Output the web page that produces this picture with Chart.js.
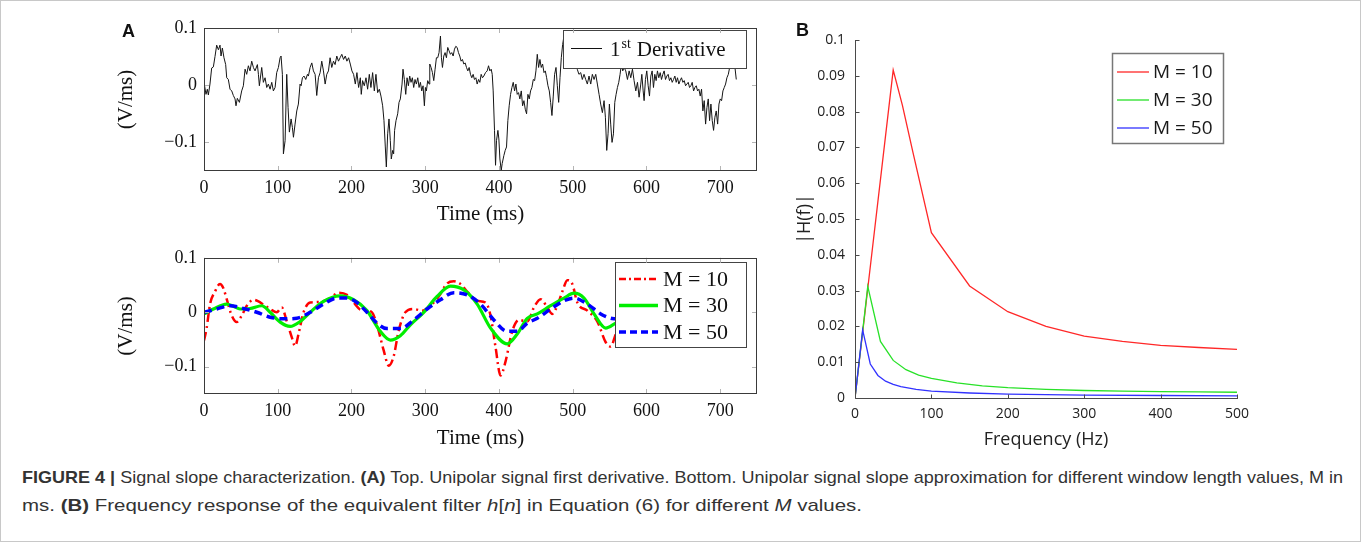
<!DOCTYPE html>
<html>
<head>
<meta charset="utf-8">
<script src="https://cdn.jsdelivr.net/npm/chart.js@4.4.0/dist/chart.umd.min.js"></script>
<style>
  html, body { margin: 0; padding: 0; background: #fff; }
  body { width: 1362px; height: 542px; position: relative; overflow: hidden; }
  #frame { position: absolute; left: 0; top: 0; width: 1359px; height: 540px; border: 1px solid #c8c8c8; }
  .cv { position: absolute; }
  .panel { position: absolute; font-family: 'Liberation Sans', Arial, sans-serif; font-weight: bold; font-size: 18px; line-height: 22px; color: #111; }
  .capline { position: absolute; left: 22px; white-space: nowrap; line-height: 20px;
             font-family: 'Liberation Sans Narrow', 'Liberation Sans', Arial, sans-serif;
             font-size: 17px; color: #333; transform-origin: 0 50%; }
</style>
</head>
<body>
<div id="frame"></div>
<canvas id="deriv-chart" class="cv" width="680" height="240" style="left:100px;top:0px"></canvas>
<canvas id="slope-chart" class="cv" width="680" height="220" style="left:100px;top:240px"></canvas>
<canvas id="freq-chart" class="cv" width="480" height="460" style="left:780px;top:0px"></canvas>
<div class="panel" style="left:122px;top:20px">A</div>
<div class="panel" style="left:796px;top:19px">B</div>
<div class="capline" id="cap1" style="top:468px"><b>FIGURE 4 |</b> Signal slope characterization. <b>(A)</b> Top. Unipolar signal first derivative. Bottom. Unipolar signal slope approximation for different window length values, M in</div>
<div class="capline" id="cap2" style="top:496px">ms. <b>(B)</b> Frequency response of the equivalent filter <i>h</i>[<i>n</i>] in Equation (6) for different <i>M</i> values.</div>

<script>
// ---- panel A top: 1st derivative in four stretches ----
const derivTime1 = [0,2.7,4.5,5.9,8.1,10.4,12.7,14.9,17.2,19.5,21.7,23.1,24.9,27.1,29.4,30.8,33,35.3,37.6,39.8,42.1,43.4,45.2,48,51.1,53.4,55.7,57.9,60.2,62.4,64.7,67,69.2,72.4,73.8,75.1,78.3,80.5,82.8,85.1,87.3,89.6,91.9,94.1,96.4,98.6,100.9,103.2,104.5,106.3,107.7,110,112.2,114,115.8,118.1,119.9,121.3,123.5,125.8,128,130.3,131.7,133.5,135.7,138,140.3,141.6,143.9,146.2,148.4,150.7,152.9,155.2,157.5,159.7,162,164.3,166.5,168.8,171,173.3,175.6,177.8,180.1,182.4,184.6,186.9]
const derivValue1 = [0.005,-0.016,-0.007,-0.017,0.002,0.03,0.032,0.05,0.07,0.062,0.07,0.051,0.065,0.048,0.036,0.013,0.01,-0.007,-0.01,-0.018,-0.024,-0.036,-0.023,-0.03,-0.01,-0.001,0.028,0.019,0.034,0.025,0.042,0.031,0.025,0.036,0.019,-0.001,0.031,0.005,0.013,-0.004,0.002,-0.007,0.005,-0.01,-0.004,0.022,0.031,0.048,0.051,0.019,-0.12,-0.097,0.019,-0.039,-0.082,-0.059,-0.074,-0.091,-0.068,-0.045,-0.033,0.002,-0.001,0.013,0.016,0.01,0.019,0.016,0.031,0.039,0.025,0.019,-0.018,0.013,0.022,0.042,0.025,0.002,0.019,0.025,0.048,0.031,0.042,0.036,0.051,0.042,0.048,0.054]

const derivTime2 = [189.3,191.6,193.8,196.1,198.4,200.6,202.9,205.2,207.4,209.7,212,213.3,215.1,217.4,219.7,221.9,224.2,226.4,228.7,231,233.2,235.5,237.8,240,242.3,244.1,245.9,247.3,249.1,250.9,252.7,254,255.9,257.2,258.5,260.4,262.7,264.5,266.3,268.6,269.9,271.7,273.6,275.4,277.2,279,280.8,282.6,284.4,286.2,288,289.9,291.7,293.5,295.3,297.1,298.9,300.3,301.6,303.4,305.3,306.2,308,309.8,311.6,313.4,315.2,317,318.8,320.7,322,323.4,325.2,327,328.8,330.6,332.4,334.2,336,337.9,339.7,341.5,343.3,345.1,346.9,348.7,350.5,352.4,354.2,356,357.8,359.6,361.4,363.2,365,366.8,368.7,370.5,372.3,374.1,375.9,377.7,379.5,381.8]
const derivValue2 = [0.045,0.051,0.042,0.048,0.037,0.025,0.019,0.002,0.022,-0.004,0.013,-0.016,0.008,-0.001,0.013,-0.007,0.019,-0.004,0.022,-0.01,0.019,-0.013,-0.007,-0.019,-0.036,-0.062,-0.108,-0.143,-0.085,-0.059,-0.097,-0.129,-0.114,-0.12,-0.079,-0.062,-0.05,-0.03,-0.024,0.002,0.028,0.01,-0.016,0.013,-0.001,0.016,0.005,0.013,-0.004,0.01,0.002,0.013,-0.004,0.005,-0.01,-0.001,-0.036,-0.004,-0.01,0.008,0.002,0.037,0.031,0.022,0.008,0.028,0.048,0.048,0.057,0.086,0.048,0.031,0.051,0.057,0.048,0.066,0.06,0.054,0.057,0.051,0.063,0.068,0.066,0.057,0.051,0.042,0.045,0.037,0.039,0.031,0.025,0.031,0.019,0.013,0.019,0.01,0.013,0.002,0.01,0.005,0.019,0.013,0.016,0.022]

const derivTime3 = [384.1,385.9,387.7,389.5,390.9,392.2,394,395.4,396.7,398.6,399.9,401.3,403.1,404.4,406.7,408.5,410.3,412.1,413.9,415.8,417.6,419.4,421.2,423,424.8,426.6,428.4,430.3,432.1,433.9,435.7,437.5,439.3,441.1,442.9,444.7,446.6,448.4,450.2,452,453.8,455.6,457.4,459.2,461.1,462.9,464.7,466.5,468.3,470.1,471.9,473.7,475.5,477.4,479.2,481,482.8,484.6,486.4,488.2,490,493,496,499,502,504,506.2,508.5,510.9,513.1,515.4,517.7,519.9,522.2,524.5,526.7,529,531.3,533.5,535.8,538,540.3,542.6,544.4,546.2,548,549.8,551.6,553.4,555.3,557.1,558.9,560.7,562.5,564.3,566.1,567.9,569.8,572]
const derivValue3 = [0.025,0.034,0.025,0.028,0.019,-0.01,-0.079,-0.14,-0.097,-0.079,-0.094,-0.129,-0.149,-0.137,-0.123,-0.114,-0.108,-0.062,-0.036,-0.016,-0.004,0.005,-0.01,0.002,-0.016,-0.013,-0.024,-0.01,-0.036,-0.027,-0.042,-0.05,-0.016,-0.024,-0.01,-0.004,0.01,0.008,0.025,0.054,0.031,0.045,0.031,0.037,0.022,0.025,0.013,-0.001,-0.01,-0.03,-0.053,-0.019,0.019,0.031,-0.001,-0.03,0.013,0.048,0.071,0.086,0.075,0.062,0.07,0.058,0.05,0.04,0.028,0.019,0.022,0.01,0.019,0.01,0.002,0.016,0.002,0.019,0.01,0.019,0.002,-0.016,-0.033,-0.048,-0.027,-0.056,-0.114,-0.085,-0.033,-0.068,-0.1,-0.085,-0.03,-0.016,-0.004,0.005,0.019,0.037,0.025,0.031,0.025]

const derivTime4 = [574.3,576.6,578.8,581.1,583.3,585.6,587.9,590.1,592.4,593.8,595.6,596.9,598.7,600.5,602.4,604.2,606,607.8,609.6,611.4,613.2,615,616.8,618.7,620.5,622.3,624.1,625.9,627.7,629.5,631.3,633.2,635,636.8,638.6,640.4,642.2,644,645.8,647.6,649.5,651.3,653.1,654.9,656.7,658.5,660.3,662.1,664,665.8,667.6,669.4,671.2,673,674.8,676.6,678.4,680.3,682.1,683.9,685.7,687.5,689.3,691.1,692.9,694.7,696.6,698.4,700.2,702,703.8,705.6,707.4,709.2,711.1,712.9,714.7,716.5,718.3,720.1,721.9]
const derivValue4 = [0.01,0.025,0.013,0.028,0.008,-0.01,0.005,-0.021,0.002,0.019,-0.01,-0.027,0.01,0.025,-0.001,-0.019,0.016,0.025,-0.004,0.019,0.008,0.025,0.013,0.022,0.01,0.019,0.025,0.01,0.016,0.019,0.008,0.013,0.005,0.01,0.016,0.005,0.013,0.002,0.008,0.013,0.005,0.008,-0.001,0.002,0.005,-0.004,-0.001,0.005,-0.01,-0.004,-0.001,-0.01,-0.007,-0.019,-0.007,-0.045,-0.027,-0.068,-0.039,-0.024,-0.062,-0.033,-0.062,-0.079,-0.056,-0.045,-0.068,-0.033,-0.024,-0.027,-0.01,-0.004,0.002,0.013,0.019,0.031,0.037,0.045,0.037,0.031,0.01]

// ---- panel A bottom: slope approximation ----
const m10Time = [0,3.6,8.2,14.9,21.7,26.3,30.8,37.6,44.4,51.2,58,67,73.8,80.6,89.7,98.7,105.5,112.3,119.1,123.6,128.2,135,144,157.6,171.2,182.5,193.8,202.9,211.9,221,227.8,234.6,243.7,250.5,257.2,264,273.1,284.4,295.7,307.1,318.4,329.7,338.8,347.8,356.9,370.5,381.8,388.6,395.4,402.2,409,418,427.1,438.4,447.5,456.5,465.6,472.4,479.2,486,492.8,499.5,506.3,519.9,533.5,544.8,551.6,558.4]
const m10Value = [-0.052,-0.029,0.015,0.038,0.052,0.044,0.024,-0.006,-0.018,-0.006,0.012,0.023,0.020,0.014,0.006,0.0,0.009,-0.017,-0.046,-0.062,-0.040,0.0,0.018,0.019,0.026,0.036,0.032,0.018,0.005,0.003,0.0,-0.023,-0.070,-0.098,-0.081,-0.034,0.0,0.006,0.003,0.012,0.029,0.053,0.057,0.052,0.038,0.021,0.018,-0.006,-0.064,-0.116,-0.090,-0.035,-0.014,-0.017,0.009,0.024,0.009,-0.003,0.012,0.038,0.059,0.052,0.018,0.003,-0.017,-0.055,-0.063,-0.040]
const m30Time = [0,12.7,30.8,39.9,48.9,62.5,78.4,89.7,103.3,116.8,130.4,144,162.1,184.8,202.9,221,239.1,252.7,266.3,279.9,298,316.1,334.2,352.4,370.5,388.6,411.2,424.8,438.4,452,470.1,488.2,501.8,515.4,529,544.8,558.4]
const m30Value = [-0.003,0.006,0.015,0.011,0.006,0.007,0.012,0.0,-0.018,-0.026,-0.017,0.0,0.020,0.030,0.023,0.003,-0.035,-0.051,-0.043,-0.023,0.0,0.029,0.048,0.041,0.015,-0.029,-0.058,-0.040,-0.011,-0.003,0.012,0.026,0.035,0.026,-0.003,-0.029,-0.020]
const m50Time = [0,17.2,35.3,53.4,71.6,89.7,107.8,125.9,144,162.1,180.2,193.8,207.4,221,234.6,248.2,266.3,284.4,302.5,320.7,338.8,356.9,375,393.1,411.2,424.8,438.4,452,470.1,488.2,501.8,519.9,538,551.6,558.4]
const m50Value = [0,0.006,0.012,0.007,0,-0.009,-0.012,-0.011,0,0.015,0.026,0.026,0.018,0,-0.020,-0.030,-0.030,-0.014,0.006,0.023,0.036,0.032,0.015,-0.014,-0.035,-0.035,-0.020,-0.011,0.006,0.021,0.026,0.015,-0.003,-0.011,-0.012]

// ---- panel B: frequency response ----
const freqM10 = [0,50,62,76,100,150,200,250,300,350,400,450,500]
const hM10 = [0,0.0916,0.0818,0.0685,0.0462,0.0313,0.0241,0.0200,0.0173,0.0158,0.0147,0.0141,0.0136]
const freqM30 = [0,16.7,33.3,50,66.7,83.3,100,133.3,166.7,200,250,300,350,400,450,500]
const hM30 = [0,0.0312,0.0158,0.0105,0.0079,0.0064,0.0055,0.0042,0.0034,0.0029,0.0024,0.0021,0.0019,0.0018,0.0017,0.0016]
const freqM50 = [0,10,20,30,40,50,60,80,100,150,200,300,400,500]
const hM50 = [0,0.019,0.0095,0.0063,0.0047,0.0038,0.0032,0.0024,0.0019,0.0014,0.0011,0.0008,0.0007,0.0006]

const timeTicks = [0,100,200,300,400,500,600,700]
const slopeTicks = [-0.1,0,0.1]

const derivTime = [...derivTime1, ...derivTime2, ...derivTime3, ...derivTime4]
const derivValue = [...derivValue1, ...derivValue2, ...derivValue3, ...derivValue4]

const serif = '"Liberation Serif", "DejaVu Serif", serif'
const sans = '"Open Sans", "Noto Sans", sans-serif'
const toXY = (xs, ys) => xs.map((x, i) => ({ x: x, y: ys[i] }))
const fmtSlope = v => v === 0 ? '0' : (v < 0 ? '\u2212' : '') + Math.abs(v)

// pgfplots-like box with inward light ticks
const pgfFrame = {
    id: 'pgfFrame',
    afterDraw(chart) {
        const { ctx, chartArea: a, scales: { x, y } } = chart
        ctx.save()
        ctx.lineWidth = 1
        ctx.strokeStyle = '#b4b4b4'
        ctx.beginPath()
        x.ticks.forEach(t => {
            const px = Math.round(x.getPixelForValue(t.value)) + 0.5
            ctx.moveTo(px, a.top); ctx.lineTo(px, a.top + 5)
            ctx.moveTo(px, a.bottom); ctx.lineTo(px, a.bottom - 5)
        })
        y.ticks.forEach(t => {
            const py = Math.round(y.getPixelForValue(t.value)) + 0.5
            ctx.moveTo(a.left, py); ctx.lineTo(a.left + 5, py)
            ctx.moveTo(a.right, py); ctx.lineTo(a.right - 5, py)
        })
        ctx.stroke()
        ctx.strokeStyle = '#3a3a3a'
        ctx.strokeRect(Math.round(a.left) + 0.5, Math.round(a.top) + 0.5, Math.round(a.width) - 1, Math.round(a.height) - 1)
        ctx.restore()
    }
}

const derivLegend = {
    id: 'derivLegend',
    afterDatasetsDraw(chart) {
        const { ctx, chartArea: a } = chart
        const bx = Math.round(a.right) - 194, by = Math.round(a.top) + 2, bw = 183, bh = 38
        ctx.save()
        ctx.fillStyle = '#fff'
        ctx.fillRect(bx, by, bw, bh)
        ctx.strokeStyle = '#444'
        ctx.lineWidth = 1
        ctx.strokeRect(bx + 0.5, by + 0.5, bw, bh)
        ctx.strokeStyle = '#111'
        ctx.beginPath(); ctx.moveTo(bx + 8, by + 18.5); ctx.lineTo(bx + 39, by + 18.5); ctx.stroke()
        ctx.fillStyle = '#111'
        ctx.textAlign = 'left'
        ctx.textBaseline = 'alphabetic'
        const base = by + 26
        let tx = bx + 47
        ctx.font = '21px ' + serif
        ctx.fillText('1', tx, base)
        tx += ctx.measureText('1').width + 1
        ctx.font = '14px ' + serif
        ctx.fillText('st', tx, base - 8)
        tx += ctx.measureText('st').width + 6
        ctx.font = '21px ' + serif
        ctx.fillText('Derivative', tx, base)
        ctx.restore()
    }
}

const slopeLegend = {
    id: 'slopeLegend',
    afterDatasetsDraw(chart) {
        const { ctx, chartArea: a } = chart
        const bx = Math.round(a.right) - 142, by = Math.round(a.top) + 4, bw = 131, bh = 85
        const rows = [
            { text: 'M = 10', color: '#ff0000', width: 2.5, dash: [7, 3, 2, 3] },
            { text: 'M = 30', color: '#00ee00', width: 3.5, dash: [] },
            { text: 'M = 50', color: '#0000ff', width: 3.5, dash: [7, 4] }
        ]
        ctx.save()
        ctx.fillStyle = '#fff'
        ctx.fillRect(bx, by, bw, bh)
        ctx.strokeStyle = '#444'
        ctx.lineWidth = 1
        ctx.strokeRect(bx + 0.5, by + 0.5, bw, bh)
        ctx.font = '22px ' + serif
        ctx.textAlign = 'left'
        ctx.textBaseline = 'middle'
        rows.forEach((r, i) => {
            const ry = by + 17 + i * 26.5
            ctx.strokeStyle = r.color
            ctx.lineWidth = r.width
            ctx.setLineDash(r.dash)
            ctx.beginPath(); ctx.moveTo(bx + 4, ry); ctx.lineTo(bx + 43, ry); ctx.stroke()
            ctx.setLineDash([])
            ctx.fillStyle = '#111'
            ctx.fillText(r.text, bx + 48, ry + 1)
        })
        ctx.restore()
    }
}

// matlab-like axes: left and bottom only, ticks inward
const matFrame = {
    id: 'matFrame',
    afterDraw(chart) {
        const { ctx, chartArea: a, scales: { x, y } } = chart
        const L = Math.round(a.left) + 0.5, B = Math.round(a.bottom) + 0.5
        ctx.save()
        ctx.strokeStyle = '#4a4a4a'
        ctx.lineWidth = 1
        ctx.beginPath()
        ctx.moveTo(L, Math.round(a.top)); ctx.lineTo(L, B); ctx.lineTo(Math.round(a.right) + 1, B)
        y.ticks.forEach(t => {
            const py = Math.round(y.getPixelForValue(t.value)) + 0.5
            ctx.moveTo(L, py); ctx.lineTo(L + 4, py)
        })
        x.ticks.forEach(t => {
            const px = Math.round(x.getPixelForValue(t.value)) + 0.5
            ctx.moveTo(px, B); ctx.lineTo(px, B - 4)
        })
        ctx.stroke()
        ctx.restore()
    }
}

const freqLegend = {
    id: 'freqLegend',
    afterDatasetsDraw(chart) {
        const { ctx, chartArea: a } = chart
        const bx = Math.round(a.right) - 125, by = Math.round(a.top) + 13, bw = 111, bh = 90
        const rows = [
            { text: 'M = 10', color: 'rgb(255,40,40)' },
            { text: 'M = 30', color: 'rgb(40,225,40)' },
            { text: 'M = 50', color: 'rgb(50,50,255)' }
        ]
        ctx.save()
        ctx.fillStyle = '#fff'
        ctx.fillRect(bx, by, bw, bh)
        ctx.strokeStyle = '#777'
        ctx.lineWidth = 1.5
        ctx.strokeRect(bx + 0.5, by + 0.5, bw, bh)
        ctx.font = '19px ' + sans
        ctx.textAlign = 'left'
        ctx.textBaseline = 'middle'
        rows.forEach((r, i) => {
            const ry = by + 19 + i * 28
            ctx.strokeStyle = r.color
            ctx.lineWidth = 1.3
            ctx.beginPath(); ctx.moveTo(bx + 5, ry); ctx.lineTo(bx + 37, ry); ctx.stroke()
            ctx.fillStyle = '#1a1a1a'
            ctx.fillText(r.text, bx + 41, ry + 1)
        })
        ctx.restore()
    }
}

function timeAxes(xHeight, tickPad, titlePad) {
    return {
        x: {
            type: 'linear', min: 0, max: 750,
            grid: { display: false, drawTicks: false },
            border: { display: false },
            afterBuildTicks: s => { s.ticks = timeTicks.map(v => ({ value: v })) },
            afterFit: s => { s.height = xHeight },
            ticks: { padding: tickPad, color: '#111', font: { family: serif, size: 18 }, maxRotation: 0 },
            title: { display: true, text: 'Time (ms)', color: '#111', font: { family: serif, size: 21 }, padding: { top: 0, bottom: titlePad } }
        },
        y: {
            type: 'linear', min: -0.15, max: 0.1,
            grid: { display: false, drawTicks: false },
            border: { display: false },
            afterBuildTicks: s => { s.ticks = slopeTicks.map(v => ({ value: v })) },
            afterFit: s => { s.width = 104 },
            ticks: { padding: 7, color: '#111', font: { family: serif, size: 18 }, callback: fmtSlope },
            title: { display: true, text: '(V/ms)', color: '#111', font: { family: serif, size: 21 }, padding: { top: 14, bottom: 0 } }
        }
    }
}

function drawDeriv() {
    const ctx = document.getElementById('deriv-chart').getContext('2d')
    new Chart(ctx, {
        type: 'line',
        data: {
            datasets: [{
                label: '1st Derivative',
                data: toXY(derivTime, derivValue),
                borderColor: '#151515',
                borderWidth: 1,
                pointRadius: 0,
                tension: 0
            }]
        },
        options: {
            animation: false,
            responsive: false,
            events: [],
            layout: { padding: { left: 0, top: 28, right: 23, bottom: 0 } },
            plugins: { legend: { display: false }, tooltip: { enabled: false } },
            scales: timeAxes(69, 6, 13)
        },
        plugins: [derivLegend, pgfFrame]
    })
}

function drawSlope() {
    const ctx = document.getElementById('slope-chart').getContext('2d')
    new Chart(ctx, {
        type: 'line',
        data: {
            datasets: [
                { label: 'M = 10', data: toXY(m10Time, m10Value), borderColor: '#ff0000', borderWidth: 2.5,
                  borderDash: [9, 4, 2, 4], pointRadius: 0, cubicInterpolationMode: 'monotone', order: 3 },
                { label: 'M = 30', data: toXY(m30Time, m30Value), borderColor: '#00ee00', borderWidth: 3.2,
                  pointRadius: 0, cubicInterpolationMode: 'monotone', order: 2 },
                { label: 'M = 50', data: toXY(m50Time, m50Value), borderColor: '#0000ff', borderWidth: 3.5,
                  borderDash: [8, 5], pointRadius: 0, cubicInterpolationMode: 'monotone', order: 1 }
            ]
        },
        options: {
            animation: false,
            responsive: false,
            events: [],
            layout: { padding: { left: 0, top: 11, right: 23, bottom: 0 } },
            plugins: { legend: { display: false }, tooltip: { enabled: false } },
            scales: timeAxes(66, 6, 9)
        },
        plugins: [slopeLegend, pgfFrame]
    })
}

function drawFreq() {
    const ctx = document.getElementById('freq-chart').getContext('2d')
    new Chart(ctx, {
        type: 'line',
        data: {
            datasets: [
                { label: 'M = 10', data: toXY(freqM10, hM10), borderColor: 'rgb(255,40,40)', borderWidth: 1.3, pointRadius: 0, tension: 0, order: 3 },
                { label: 'M = 30', data: toXY(freqM30, hM30), borderColor: 'rgb(40,225,40)', borderWidth: 1.3, pointRadius: 0, tension: 0, order: 2 },
                { label: 'M = 50', data: toXY(freqM50, hM50), borderColor: 'rgb(50,50,255)', borderWidth: 1.3, pointRadius: 0, tension: 0, order: 1 }
            ]
        },
        options: {
            animation: false,
            responsive: false,
            events: [],
            layout: { padding: { left: 0, top: 40, right: 23, bottom: 0 } },
            plugins: { legend: { display: false }, tooltip: { enabled: false } },
            scales: {
                x: {
                    type: 'linear', min: 0, max: 500,
                    grid: { display: false, drawTicks: false },
                    border: { display: false },
                    afterFit: s => { s.height = 62 },
                    ticks: { stepSize: 100, padding: 8, color: '#222', font: { family: sans, size: 14 }, maxRotation: 0 },
                    title: { display: true, text: 'Frequency (Hz)', color: '#222', font: { family: sans, size: 18 }, padding: { top: 0, bottom: 9 } }
                },
                y: {
                    type: 'linear', min: 0, max: 0.1,
                    grid: { display: false, drawTicks: false },
                    border: { display: false },
                    afterFit: s => { s.width = 75 },
                    ticks: { stepSize: 0.01, padding: 10, color: '#222', font: { family: sans, size: 14 },
                             callback: v => String(Number(v.toFixed(2))) },
                    title: { display: true, text: '|H(f)|', color: '#222', font: { family: sans, size: 18 }, padding: { top: 14, bottom: 0 } }
                }
            }
        },
        plugins: [freqLegend, matFrame]
    })
}

// caption lines are squeezed to the widths they take in the figure
function fitCaption() {
    const targets = { cap1: 1321, cap2: 840 }
    Object.keys(targets).forEach(id => {
        const el = document.getElementById(id)
        const k = targets[id] / el.getBoundingClientRect().width
        el.style.transform = 'scaleX(' + k + ')'
    })
}

document.addEventListener('DOMContentLoaded', () => {
    drawDeriv()
    drawSlope()
    drawFreq()
    fitCaption()
})
</script>
</body>
</html>
